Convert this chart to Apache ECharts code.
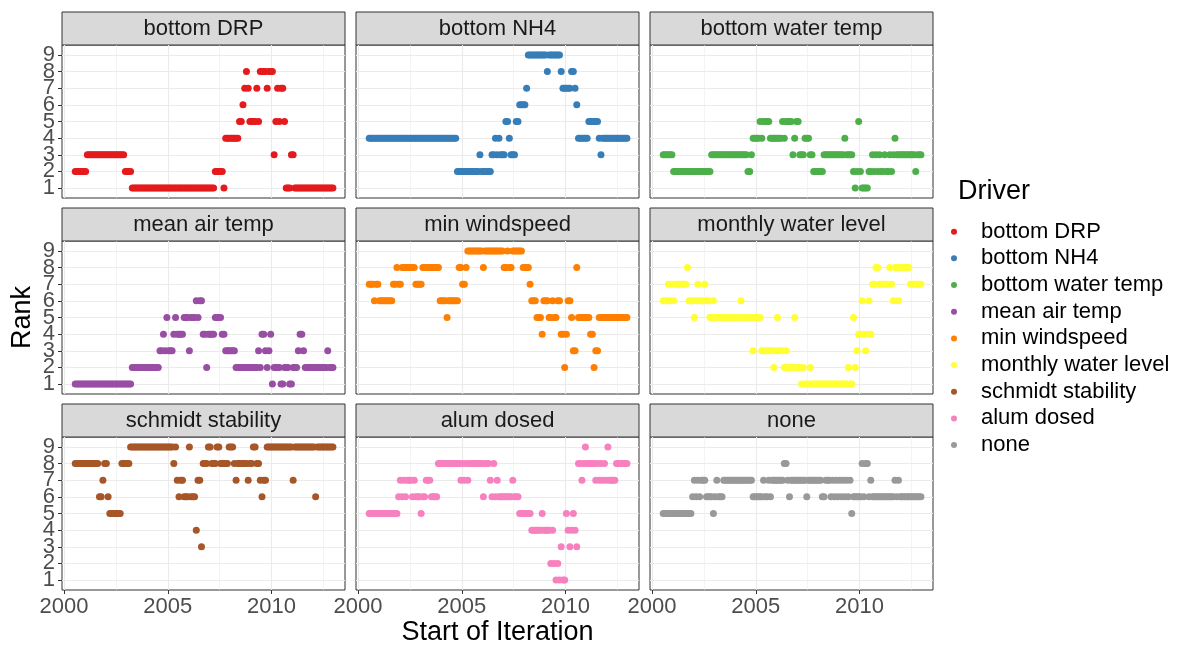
<!DOCTYPE html>
<html>
<head>
<meta charset="utf-8">
<script src="https://cdn.jsdelivr.net/npm/echarts@6/dist/echarts.min.js"></script>
<style>
html, body { margin: 0; padding: 0; background: #fff; }
#chart { width: 1199px; height: 648px; }
</style>
</head>
<body>
<div id="chart"></div>
<script>
// Drivers, in facet order and legend order
const drivers = ['bottom DRP', 'bottom NH4', 'bottom water temp', 'mean air temp', 'min windspeed',
                 'monthly water level', 'schmidt stability', 'alum dosed', 'none'];
const driverColors = ['#E41A1C', '#377EB8', '#4DAF4A', '#984EA3', '#FF7F00',
                      '#FFFF33', '#A65628', '#F781BF', '#999999'];

// Iterations start monthly, July 2000 through December 2012
const FIRST_YEAR = 2000, FIRST_MONTH = 7, N_ITER = 150;

// Rank of each driver per iteration: one digit per month (spaces are only for readability)
const rankBottomDRP = "2222222 3333333333 3333333333 33 2222 1111111111 1111111111 1111111111 1111111111 11111111 22222 1 44444444 5567875555 7588887888 3575775111 331 1111111111 1111111111 11";
const rankBottomNH4 = "4444444444 4444444444 4444444444 4444444444 4444444444 4 2222222222 222 3 222222 33434333 5543335566667 9999999999 9 8 9999999 8777778876 444444 555555 43 4444444444 44444";
const rankBottomWaterTemp = "333333 2222222222 2222222222 22 3333333333 3333333333 3 22 3 4444 5 4 5555 4444444 5 4 5555 345533344433 222222 3333333333 33 4 3333 2125211112 2323232232 23234 3333333333 3 2 333";
const rankMeanAirTemp = "1111111111 1111111111 1111111111 111 2222222222 222222 3343533345 4444555355 5656644244 44 5555 44 333333 2222222222 222 3244323412 2221122211 22234432 2222222222 22 3 222";
const rankMinWindspeed = "777 6 77 66666666 77 8 77 88888888 7777 8888888888 6666 5 666666 88 77 8 999999999 8 99999999999 88 9 88 999999 8888 7666555466 6556556644 2466533855 5555544233 5 5555555555 555555";
const rankMonthlyWaterLevel = "6667676 7777777 8 666 5 67666766556 5555555555 55555 6 555555 3555533333 3323533323 2222522212 1112 1111111111 1111111111 1 2115234464 3464 7788777777 8768868888 887777777";
const rankSchmidtStability = "8888888888 8888 667886 5555555 88888 9999999999 9999999999 99999 8976776669 6664773 8889988899 88888 999 87 888888 7889988767 7 9999999999 99999 7 9999999999 99 6 9999999999";
const rankAlumDosed = "5555555555 5555555 6767677767 6665667776 6668 8888888888 88 7878788888 8886888768 676 6666666 7 666 5555555 444444 5 4444 2421213115 4345438878 9888887878 7879777788 88888";
const rankNone = "5555555555 5555555 6767677766 665676667 7777777777 777777 666666 76676 7777777 8876 777777777 6 77777777 6677767676 767676756 6666868867 6666666666 666 7676 6666666666 66";

// Axis breaks
const xTicks = [2000, 2005, 2010];
const xMinorBreaks = [2002.5, 2007.5, 2012.5];
const yTicks = [1, 2, 3, 4, 5, 6, 7, 8, 9];

const rankStrings = [rankBottomDRP, rankBottomNH4, rankBottomWaterTemp, rankMeanAirTemp, rankMinWindspeed,
                     rankMonthlyWaterLevel, rankSchmidtStability, rankAlumDosed, rankNone];
const ranks = rankStrings.map(s => s.replace(/\s+/g, '').split('').map(Number));

// Decimal year at the middle of each iteration's starting month
const iterationStarts = [];
for (let i = 0; i < N_ITER; i++) {
  iterationStarts.push(FIRST_YEAR + (FIRST_MONTH - 1 + i + 0.5) / 12);
}

// Facet layout
const FONT = "'Liberation Sans', Arial, Helvetica, sans-serif";
const COL_LEFT = [62, 356, 650];
const ROW_TOP = [45, 241, 437];
const PANEL_W = 283, PANEL_H = 153, STRIP_H = 33;
const X_MIN = 1999.904, X_MAX = 2013.54;
const Y_MIN = 0.4, Y_MAX = 9.6;
const plain = v => String(v);

const grids = [], xAxes = [], yAxes = [], series = [], graphics = [];

// y tick labels sit close together, so odd and even ranks are labelled by two
// overlaid label-only axes (keeps ECharts from dropping crowded labels)
function yLabelAxis(g, values) {
  return {
    gridIndex: g, type: 'value', min: Y_MIN, max: Y_MAX, position: 'left', offset: 0,
    axisLine: { show: false },
    axisTick: { show: false, customValues: values },
    splitLine: { show: false },
    axisLabel: {
      show: true, customValues: values, formatter: plain, color: '#4D4D4D',
      fontSize: 22, fontFamily: FONT, margin: 7,
      showMinLabel: true, showMaxLabel: true, hideOverlap: false
    }
  };
}

drivers.forEach((name, g) => {
  const row = Math.floor(g / 3), col = g % 3;
  const left = COL_LEFT[col], top = ROW_TOP[row];

  grids.push({
    left: left, top: top, width: PANEL_W, height: PANEL_H,
    show: true, backgroundColor: '#FFFFFF', borderColor: '#333333', borderWidth: 1,
    containLabel: false, outerBoundsMode: 'none'
  });

  // major x breaks, with ticks and labels on the bottom row
  const xIndex = xAxes.length;
  const xMajor = {
    gridIndex: g, type: 'value', min: X_MIN, max: X_MAX,
    axisLine: { show: false },
    axisTick: { show: row === 2, customValues: xTicks, length: 4, lineStyle: { color: '#333333', width: 1 } },
    axisLabel: {
      show: row === 2, customValues: xTicks, formatter: plain, color: '#4D4D4D',
      fontSize: 22, fontFamily: FONT, margin: 6,
      showMinLabel: true, showMaxLabel: true, hideOverlap: false
    },
    splitLine: { show: true, lineStyle: { color: '#EBEBEB', width: 1.1 } }
  };
  if (g === 7) {
    Object.assign(xMajor, {
      name: 'Start of Iteration', nameLocation: 'middle', nameGap: 29, nameMoveOverlap: false,
      nameTextStyle: { fontSize: 27, color: '#000000', fontFamily: FONT }
    });
  }
  xAxes.push(xMajor);

  // minor x breaks (grid lines only)
  xAxes.push({
    gridIndex: g, type: 'value', min: X_MIN, max: X_MAX,
    axisLine: { show: false },
    axisTick: { show: false, customValues: xMinorBreaks },
    axisLabel: { show: false },
    splitLine: { show: true, lineStyle: { color: '#EBEBEB', width: 0.55 } }
  });

  // main y axis: grid lines and ticks at every rank
  const yIndex = yAxes.length;
  const yAxis = {
    gridIndex: g, type: 'value', min: Y_MIN, max: Y_MAX, position: 'left',
    axisLine: { show: false },
    axisTick: { show: col === 0, customValues: yTicks, length: 4, lineStyle: { color: '#333333', width: 1 } },
    axisLabel: { show: false },
    splitLine: { show: true, lineStyle: { color: '#EBEBEB', width: 1.1 } }
  };
  if (g === 3) {
    Object.assign(yAxis, {
      name: 'Rank', nameLocation: 'middle', nameGap: 26, nameRotate: 90, nameMoveOverlap: false,
      nameTextStyle: { fontSize: 27, color: '#000000', fontFamily: FONT }
    });
  }
  yAxes.push(yAxis);
  if (col === 0) {
    yAxes.push(yLabelAxis(g, yTicks.filter(v => v % 2 === 1)));
    yAxes.push(yLabelAxis(g, yTicks.filter(v => v % 2 === 0)));
  }

  series.push({
    type: 'scatter', name: name,
    xAxisIndex: xIndex, yAxisIndex: yIndex,
    data: ranks[g].map((r, i) => [iterationStarts[i], r]),
    symbol: 'circle', symbolSize: 7,
    itemStyle: { color: driverColors[g], opacity: 1 },
    emphasis: { disabled: true },
    silent: true
  });

  // facet strip
  graphics.push({
    type: 'rect', silent: true,
    shape: { x: left, y: top - STRIP_H, width: PANEL_W, height: STRIP_H },
    style: { fill: '#D9D9D9', stroke: '#333333', lineWidth: 1 }
  });
  graphics.push({
    type: 'text', silent: true,
    x: left + PANEL_W / 2, y: top - STRIP_H / 2,
    style: { text: name, fontSize: 22, fontFamily: FONT, fill: '#1A1A1A', align: 'center', verticalAlign: 'middle' }
  });
});

// legend title
graphics.push({
  type: 'text', silent: true, x: 958, y: 192,
  style: { text: 'Driver', fontSize: 27, fontFamily: FONT, fill: '#000000', align: 'left', verticalAlign: 'middle' }
});

const chart = echarts.init(document.getElementById('chart'), null, { renderer: 'canvas' });
chart.setOption({
  animation: false,
  backgroundColor: '#FFFFFF',
  textStyle: { fontFamily: FONT },
  grid: grids,
  xAxis: xAxes,
  yAxis: yAxes,
  legend: {
    data: drivers, orient: 'vertical', left: 951, top: 220.7, padding: 0,
    icon: 'circle', itemWidth: 44, itemHeight: 6, itemGap: 4.67,
    selectedMode: false,
    textStyle: { fontSize: 22, color: '#000000', fontFamily: FONT, lineHeight: 22 }
  },
  graphic: graphics,
  series: series
});
</script>
</body>
</html>
